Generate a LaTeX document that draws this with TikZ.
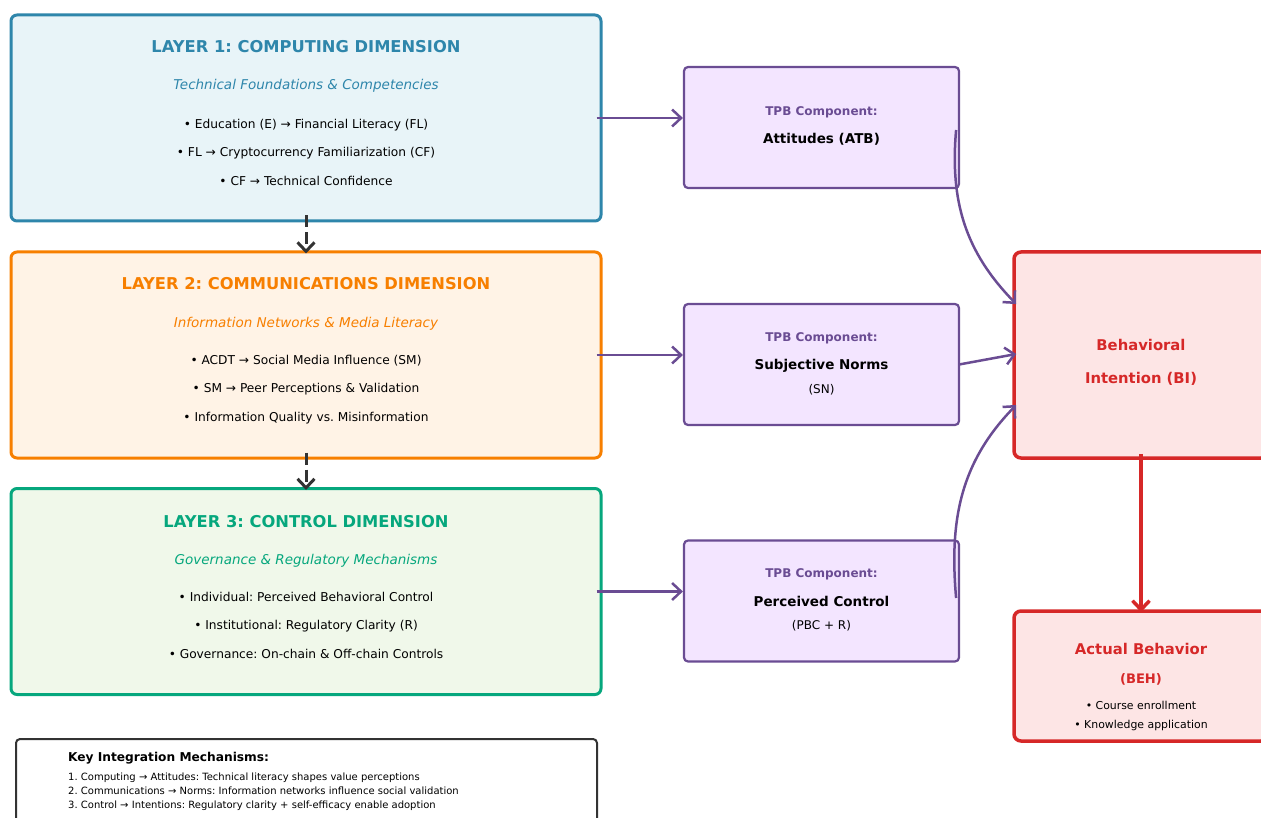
\documentclass[tikz,border=0pt]{standalone}
\usepackage{fontspec}
\setmainfont{DejaVu Sans}
\usetikzlibrary{arrows.meta,bending}
\frenchspacing

\definecolor{compblue}{HTML}{2E86AB}
\definecolor{compfill}{HTML}{E8F4F8}
\definecolor{commorange}{HTML}{F77F00}
\definecolor{commfill}{HTML}{FFF3E6}
\definecolor{ctrlgreen}{HTML}{06A77D}
\definecolor{ctrlfill}{HTML}{F0F8EA}
\definecolor{tpbpurple}{HTML}{6A4C93}
\definecolor{tpbfill}{HTML}{F3E5FF}
\definecolor{behred}{HTML}{D62828}
\definecolor{behfill}{HTML}{FDE5E5}
\definecolor{darkgray}{HTML}{333333}

\tikzset{
  layerbox/.style 2 args={draw=#1, fill=#2, line width=3pt, rounded corners=6pt,
    minimum width=590pt, minimum height=206pt, inner sep=0pt},
  tpbbox/.style={draw=tpbpurple, fill=tpbfill, line width=2.2pt, rounded corners=4pt,
    minimum width=275pt, minimum height=121pt, inner sep=0pt},
  outbox/.style={draw=behred, fill=behfill, line width=3.5pt, rounded corners=7pt,
    minimum width=254pt, inner sep=0pt},
  line/.style={inner sep=0pt, text height=0.8em, text depth=0.2em},
  layertitle/.style={line, font=\fontsize{16.3}{19}\bfseries\selectfont, yshift=-4pt},
  layersub/.style={line, font=\fontsize{13.5}{16}\itshape\selectfont, yshift=-2pt},
  bullet/.style={line, font=\fontsize{12.2}{14}\selectfont, yshift=-1.5pt},
  tpbhead/.style={line, font=\fontsize{12}{14}\bfseries\selectfont, text=tpbpurple, yshift=-1.5pt},
  tpbname/.style={line, font=\fontsize{13.5}{16}\bfseries\selectfont, yshift=-2pt},
  tpbnote/.style={line, font=\fontsize{12}{14}\selectfont, yshift=-1pt},
  outhead/.style={line, font=\fontsize{14.8}{17}\bfseries\selectfont, text=behred, yshift=-3pt},
  outnote/.style={line, font=\fontsize{10.9}{13}\selectfont},
  keyline/.style={line, font=\fontsize{10}{12}\selectfont, anchor=west},
  feed/.style={draw=tpbpurple, line width=2.5pt, -{Straight Barb[length=9pt,width=17pt,bend]}},
  flow/.style={draw=darkgray, line width=3pt, dash pattern=on 12pt off 5pt,
    -{Straight Barb[length=9pt,width=17pt]}},
}

\begin{document}
\begin{tikzpicture}[x=1pt, y=-1pt]
\useasboundingbox (0,0) rectangle (1261,818);
\clip (0,0) rectangle (1261,818);

% three layers
\node[layerbox={compblue}{compfill}]    (comp) at (306,118) {};
\node[layerbox={commorange}{commfill}]  (comm) at (306,355) {};
\node[layerbox={ctrlgreen}{ctrlfill}]   (ctrl) at (306,591.5) {};

\node[layertitle, text=compblue] (comptitle) at (306,46)  {LAYER 1: COMPUTING DIMENSION};
\node[layersub, text=compblue]   (compsub)   at (306,85)  {Technical Foundations \& Competencies};
\node[bullet] (compa) at (306,124) {• Education (E) → Financial Literacy (FL)};
\node[bullet] (compb) at (306,152) {• FL → Cryptocurrency Familiarization (CF)};
\node[bullet] (compc) at (306,181) {• CF → Technical Confidence};

\node[layertitle, text=commorange] (commtitle) at (306,283) {LAYER 2: COMMUNICATIONS DIMENSION};
\node[layersub, text=commorange]   (commsub)   at (306,322) {Information Networks \& Media Literacy};
\node[bullet] (comma) at (306,360) {• ACDT → Social Media Influence (SM)};
\node[bullet] (commb) at (306,388) {• SM → Peer Perceptions \& Validation};
\node[bullet] (commc) at (306,417) {• Information Quality vs. Misinformation};

\node[layertitle, text=ctrlgreen] (ctrltitle) at (306,520) {LAYER 3: CONTROL DIMENSION};
\node[layersub, text=ctrlgreen]   (ctrlsub)   at (306,559) {Governance \& Regulatory Mechanisms};
\node[bullet] (ctrla) at (306,597) {• Individual: Perceived Behavioral Control};
\node[bullet] (ctrlb) at (306,625) {• Institutional: Regulatory Clarity (R)};
\node[bullet] (ctrlc) at (306,654) {• Governance: On-chain \& Off-chain Controls};

% TPB components
\node[tpbbox] (atb) at (821.5,127.5) {};
\node[tpbbox] (sn)  at (821.5,364.5) {};
\node[tpbbox] (pbc) at (821.5,601)   {};

\node[tpbhead] (atbhead) at (821.5,111) {TPB Component:};
\node[tpbname] (atbname) at (821.5,139) {Attitudes (ATB)};
\node[tpbhead] (snhead)  at (821.5,337) {TPB Component:};
\node[tpbname] (snname)  at (821.5,365) {Subjective Norms};
\node[tpbnote] (snnote)  at (821.5,389) {(SN)};
\node[tpbhead] (pbchead) at (821.5,573) {TPB Component:};
\node[tpbname] (pbcname) at (821.5,601) {Perceived Control};
\node[tpbnote] (pbcnote) at (821.5,625) {(PBC + R)};

% intention and behaviour
\node[outbox, minimum height=206pt] (bi)  at (1141,355) {};
\node[outbox, minimum height=130pt] (beh) at (1141,676) {};

\node[outhead] (bia)  at (1141,344) {Behavioral};
\node[outhead] (bib)  at (1141,377) {Intention (BI)};
\node[outhead] (beha) at (1141,648) {Actual Behavior};
\node[outhead, font=\fontsize{13.1}{15}\bfseries\selectfont] (behb) at (1141,677) {(BEH)};
\node[outnote] (behc) at (1141,706) {• Course enrollment};
\node[outnote] (behd) at (1141,725) {• Knowledge application};

% key box
\node[draw=darkgray, fill=white, line width=2pt, rounded corners=4pt,
      minimum width=581pt, minimum height=100pt, inner sep=0pt] (key) at (306.5,789) {};
\node[keyline, font=\fontsize{12.2}{14}\bfseries\selectfont] (keyhead) at (68,758) {Key Integration Mechanisms:};
\node[keyline] (keya) at (68,777) {1. Computing → Attitudes: Technical literacy shapes value perceptions};
\node[keyline] (keyb) at (68,791) {2. Communications → Norms: Information networks influence social validation};
\node[keyline] (keyc) at (68,805) {3. Control → Intentions: Regulatory clarity + self-efficacy enable adoption};

% connectors
\draw[flow] ([yshift=7pt]comp.south) -- ([yshift=-3pt]comm.north);
\draw[flow] ([yshift=7pt]comm.south) -- ([yshift=-3pt]ctrl.north);

\draw[feed] ([xshift=-6pt]comp.east) -- (comp.east -| atb.west);
\draw[feed] ([xshift=-6pt]comm.east) -- (comm.east -| sn.west);
\draw[feed] ([xshift=-6pt]ctrl.east) -- (ctrl.east -| pbc.west);

\draw[feed] ([shift={(-4,2.5)}]atb.east) to[out=265, in=135] ([shift={(4,-51)}]bi.west);
\draw[feed] ([shift={(-1,0)}]sn.east) -- ([shift={(4,-1)}]bi.west);
\draw[feed] ([shift={(-4,-3)}]pbc.east) to[out=95, in=225] ([shift={(4,50)}]bi.west);

\draw[draw=behred, line width=3.5pt, -{Straight Barb[length=9pt,width=17pt]}]
  ([yshift=6pt]bi.south) -- ([yshift=-3pt]beh.north);
\end{tikzpicture}
\end{document}
